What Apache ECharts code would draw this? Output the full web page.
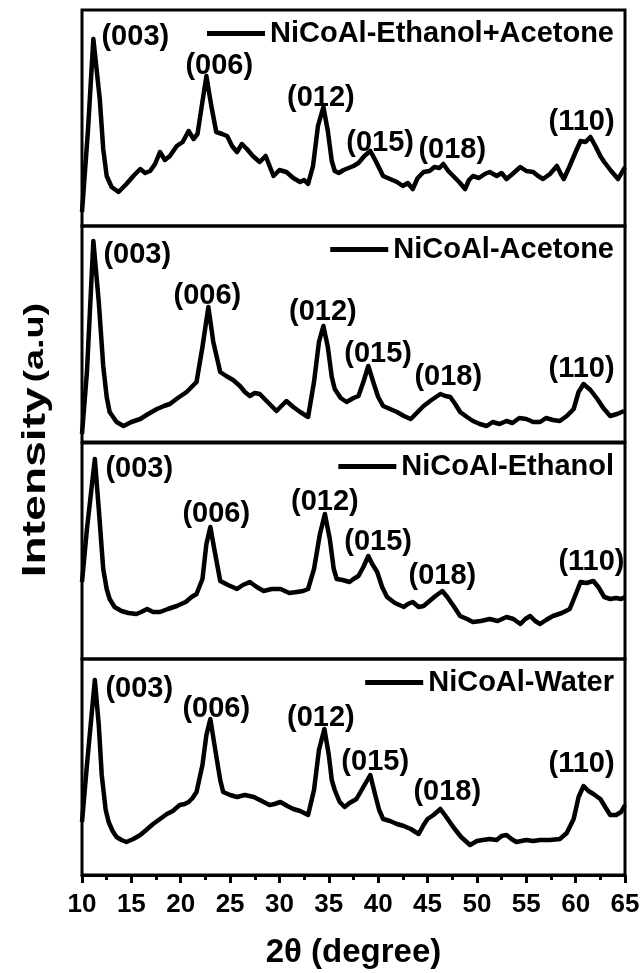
<!DOCTYPE html>
<html>
<head>
<meta charset="UTF-8">
<title>XRD NiCoAl</title>
<style>
html, body { margin: 0; padding: 0; background: #fff; }
#main { width: 644px; height: 973px; }
</style>
</head>
<body>
<div id="main"></div>
<script src="https://cdn.jsdelivr.net/npm/echarts@6/dist/echarts.min.js"></script>
<script>
// sample names, top panel first
var sampleNames = ['NiCoAl-Ethanol+Acetone', 'NiCoAl-Acetone', 'NiCoAl-Ethanol', 'NiCoAl-Water'];
var hklLabels = ['(003)', '(006)', '(012)', '(015)', '(018)', '(110)'];

// [2theta, intensity a.u.]
var ethAce = [[10.0,14],[10.6,95],[11.15,187],[11.8,127],[12.15,77],[12.5,50],[13.0,39],[13.7,34],[14.5,42],[15.2,50],[15.9,57],[16.4,53],[16.9,55],[17.4,62],[17.9,74],[18.4,66],[18.9,70],[19.6,80],[20.2,84],[20.8,95],[21.3,87],[21.7,92],[22.1,118],[22.6,150],[23.1,120],[23.6,94],[24.2,92],[24.7,90],[25.2,80],[25.7,74],[26.2,82],[26.7,77],[27.3,70],[28.0,64],[28.6,70],[29.4,50],[30.0,56],[30.7,54],[31.4,48],[32.1,44],[32.5,46],[32.9,42],[33.4,60],[33.9,100],[34.45,119],[34.9,95],[35.3,65],[35.6,55],[36.0,53],[36.5,56],[37.0,58],[37.5,60],[38.0,63],[38.6,70],[39.2,75],[39.7,66],[40.5,50],[41.2,47],[41.9,44],[42.5,40],[43.0,43],[43.5,37],[44.0,48],[44.6,54],[45.2,55],[45.7,59],[46.2,58],[46.6,62],[47.1,55],[47.6,50],[48.2,44],[48.8,37],[49.2,46],[49.6,50],[50.2,48],[50.8,52],[51.3,54],[52.0,50],[52.5,53],[53.0,47],[53.6,52],[54.4,59],[55.0,55],[55.7,54],[56.2,50],[56.7,47],[57.4,52],[58.1,60],[58.5,52],[58.8,47],[59.4,60],[60.0,74],[60.5,85],[61.0,84],[61.5,89],[62.0,80],[62.5,70],[62.9,64],[63.6,55],[64.3,47],[65.0,59]];
var acetone = [[10.0,8],[10.5,70],[11.15,201],[11.7,140],[12.15,76],[12.5,45],[12.8,30],[13.5,20],[14.2,16],[15.0,20],[15.9,23],[16.7,28],[17.6,33],[18.3,36],[18.9,38],[19.7,44],[20.6,50],[21.1,55],[21.6,60],[22.2,95],[22.8,135],[23.3,100],[24.0,70],[24.6,66],[25.3,62],[26.0,56],[26.5,50],[27.0,46],[27.5,49],[28.0,48],[28.8,40],[29.7,31],[30.2,36],[30.7,41],[31.4,35],[32.1,30],[32.9,25],[33.5,60],[34.0,100],[34.45,116],[34.9,95],[35.3,65],[35.6,53],[36.2,44],[36.8,40],[37.5,44],[38.0,46],[38.5,60],[39.0,76],[39.5,60],[40.0,45],[40.5,36],[41.2,33],[41.9,30],[42.6,26],[43.3,23],[44.0,30],[44.6,36],[45.4,42],[46.3,48],[46.8,46],[47.3,45],[47.8,38],[48.3,30],[49.0,25],[49.6,21],[50.3,18],[51.0,16],[51.6,20],[52.3,18],[53.0,21],[53.6,19],[54.3,24],[55.0,23],[55.7,20],[56.4,20],[57.0,24],[57.7,22],[58.4,21],[59.1,26],[59.8,33],[60.3,50],[60.8,58],[61.5,52],[62.2,43],[62.8,34],[63.5,26],[64.2,28],[64.9,31]];
var ethanol = [[10.0,77],[10.5,130],[11.3,200],[11.7,150],[12.15,90],[12.5,70],[12.8,60],[13.3,52],[14.0,48],[14.7,46],[15.5,45],[16.0,47],[16.6,50],[17.2,47],[17.9,47],[18.7,50],[19.6,53],[20.5,57],[21.1,62],[21.6,65],[22.2,80],[22.6,115],[23.0,132],[23.4,110],[24.0,78],[24.8,74],[25.7,70],[26.3,74],[27.0,77],[27.7,72],[28.4,68],[29.2,70],[30.1,70],[31.0,66],[31.75,67],[32.4,68],[32.9,70],[33.5,90],[34.1,125],[34.6,145],[35.1,120],[35.5,90],[35.8,80],[36.4,79],[37.1,77],[37.5,80],[38.0,83],[38.5,92],[39.0,103],[39.4,95],[39.9,87],[40.4,72],[40.9,62],[41.7,56],[42.6,52],[43.0,55],[43.5,57],[44.1,52],[44.6,53],[45.2,58],[45.8,63],[46.5,68],[47.0,62],[47.7,52],[48.3,43],[49.0,40],[49.6,37],[50.4,38],[51.3,40],[52.1,38],[53.0,42],[53.7,40],[54.4,35],[54.9,40],[55.4,43],[55.9,38],[56.4,35],[57.0,39],[57.7,43],[58.6,46],[59.4,50],[59.9,62],[60.5,77],[61.1,76],[61.8,78],[62.3,72],[62.9,62],[63.5,60],[64.1,61],[64.6,60],[65.0,62]];
var water = [[10.0,53],[10.5,110],[11.3,195],[11.7,150],[12.0,100],[12.4,65],[12.7,53],[13.1,44],[13.5,38],[14.0,35],[14.5,33],[15.2,36],[15.9,40],[16.5,45],[17.2,51],[17.9,56],[18.6,61],[19.2,64],[19.9,70],[20.4,71],[20.8,73],[21.2,77],[21.6,83],[22.2,110],[22.6,140],[23.0,156],[23.5,125],[24.0,95],[24.3,83],[25.0,80],[25.7,78],[26.5,80],[27.4,78],[28.2,74],[29.0,70],[29.5,71],[30.1,73],[30.8,69],[31.4,66],[32.1,64],[32.9,60],[33.5,85],[34.0,125],[34.55,146],[35.0,120],[35.3,95],[35.6,85],[36.1,73],[36.6,68],[37.1,72],[37.8,76],[38.5,88],[39.2,100],[39.7,80],[40.1,65],[40.5,56],[41.2,54],[41.9,51],[42.6,49],[43.3,46],[44.1,41],[44.6,50],[45.0,56],[45.6,60],[46.3,66],[46.9,58],[47.6,48],[48.4,38],[49.3,30],[50.0,34],[50.6,35],[51.3,36],[52.0,35],[52.5,39],[53.0,40],[53.5,36],[54.0,33],[55.0,35],[55.7,34],[56.4,35],[57.4,35],[58.4,36],[59.1,42],[59.8,56],[60.3,78],[60.8,89],[61.3,84],[61.8,81],[62.5,76],[63.0,68],[63.5,60],[64.1,60],[64.6,63],[65.0,70]];

// where the hkl labels sit, in data units [2theta, intensity]
var ethAceLbl  = [[15.4,189],[23.9,160],[34.2,128],[40.2,83],[47.5,76],[60.6,104]];
var acetoneLbl = [[15.6,187],[22.7,146],[34.4,130],[40.0,88],[47.1,65],[60.6,73]];
var ethanolLbl = [[15.8,190],[23.6,145],[34.6,157],[40.0,117],[46.5,83],[61.6,97]];
var waterLbl   = [[15.8,186],[23.6,166],[34.2,157],[39.7,113],[47.0,83],[60.6,111]];

var xTicks = [10, 65, 5];

var allData = [ethAce, acetone, ethanol, water];
var allLbl = [ethAceLbl, acetoneLbl, ethanolLbl, waterLbl];

var FONT = 'Liberation Sans';
var tops = [10, 226, 443, 659];
var panelH = 216;

var grids = [], xAxes = [], yAxes = [], series = [], legends = [];
for (var i = 0; i < 4; i++) {
	var last = (i == 3);
	grids.push({
		left: 82, right: 19, top: tops[i], height: panelH,
		show: true, borderColor: '#000', borderWidth: 3
	});
	xAxes.push({
		gridIndex: i, type: 'value', min: xTicks[0], max: xTicks[1], interval: xTicks[2],
		axisLine: { show: last, onZero: false, lineStyle: { color: '#000', width: 3 } },
		axisTick: { show: last, length: 8, lineStyle: { color: '#000', width: 3 } },
		minorTick: { show: last, splitNumber: 2, length: 5, lineStyle: { color: '#000', width: 3 } },
		axisLabel: { show: last, color: '#000', fontFamily: FONT, fontWeight: 'bold', fontSize: 26, margin: 17 },
		splitLine: { show: false },
		name: last ? '2θ (degree)' : '',
		nameLocation: 'middle', nameGap: 61,
		nameTextStyle: { color: '#000', fontFamily: FONT, fontWeight: 'bold', fontSize: 33 }
	});
	yAxes.push({ gridIndex: i, type: 'value', min: 0, max: panelH, show: false });
	var mp = [];
	for (var k = 0; k < hklLabels.length; k++) {
		mp.push({ name: hklLabels[k], coord: allLbl[i][k] });
	}
	series.push({
		name: sampleNames[i], type: 'line', xAxisIndex: i, yAxisIndex: i,
		data: allData[i], showSymbol: false, symbol: 'none',
		lineStyle: { color: '#000', width: 4.5, join: 'round' }, itemStyle: { color: '#000' },
		markPoint: {
			symbol: 'circle', symbolSize: 0, silent: true,
			label: { show: true, position: 'inside', formatter: '{b}', color: '#000',
				fontFamily: FONT, fontWeight: 'bold', fontSize: 29 },
			data: mp
		}
	});
	legends.push({
		data: [sampleNames[i]], top: tops[i] + 9, right: 30, padding: 0,
		icon: 'rect', itemWidth: 58, itemHeight: 5, selectedMode: false,
		textStyle: { color: '#000', fontFamily: FONT, fontWeight: 'bold', fontSize: 29 }
	});
}

var myChart = echarts.init(document.getElementById('main'));
var option = {
	animation: false,
	backgroundColor: '#fff',
	grid: grids,
	xAxis: xAxes,
	yAxis: yAxes,
	legend: legends,
	series: series,
	graphic: [{
		type: 'text', x: 36, y: 440, rotation: Math.PI / 2, scaleX: 1.4,
		style: {
			text: '{a|Intensity} {b|(a.u)}',
			align: 'center', verticalAlign: 'middle',
			rich: {
				a: { fontFamily: FONT, fontWeight: 'bold', fontSize: 33, fill: '#000' },
				b: { fontFamily: FONT, fontWeight: 'bold', fontSize: 27, fill: '#000' }
			}
		}
	}]
};
myChart.setOption(option);
</script>
</body>
</html>
